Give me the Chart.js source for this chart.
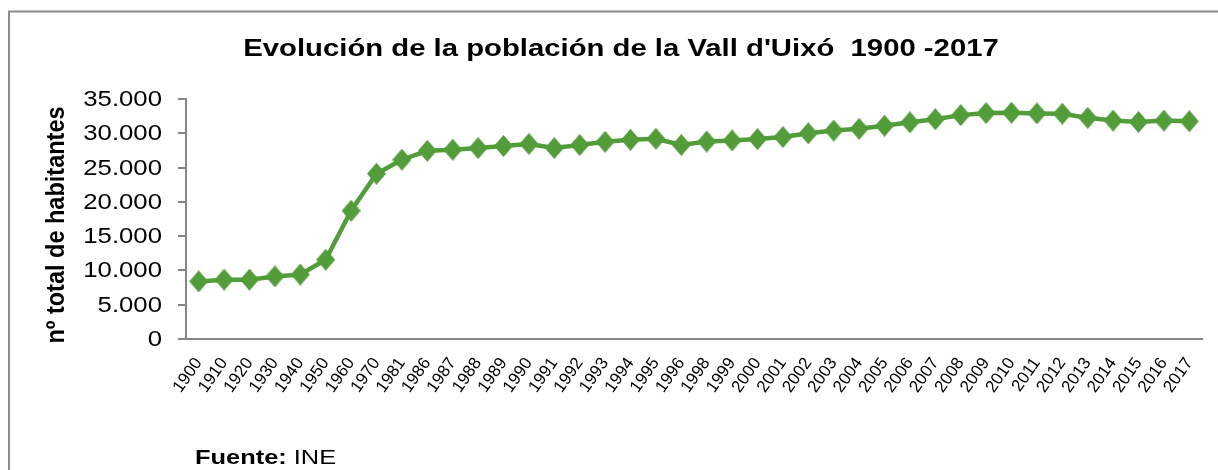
<!DOCTYPE html>
<html><head><meta charset="utf-8">
<script src="https://cdn.jsdelivr.net/npm/chart.js@4.4.1/dist/chart.umd.min.js"></script>
<style>html,body{margin:0;padding:0;background:#fff}#wrap{width:1218px;height:470px;position:relative}canvas{display:block}</style>
</head><body><div id="wrap"><canvas id="c"></canvas></div>
<script>
const years = ['1900','1910','1920','1930','1940','1950','1960','1970','1981','1986','1987','1988','1989','1990','1991','1992','1993','1994','1995','1996','1998','1999','2000','2001','2002','2003','2004','2005','2006','2007','2008','2009','2010','2011','2012','2013','2014','2015','2016','2017'];
const population = [8400,8650,8650,9130,9400,11560,18700,24100,26150,27450,27600,27850,28150,28450,27850,28300,28750,29050,29200,28300,28800,28950,29150,29450,30000,30400,30650,31100,31600,32050,32650,32950,33000,32900,32850,32250,31850,31650,31850,31750];
const yTicks = [0,5000,10000,15000,20000,25000,30000,35000];
const chartTitle = "Evolución de la población de la Vall d'Uixó  1900 -2017";
const yTitle = "nº total de habitantes";
const sourceLabel = "Fuente:";
const sourceText = " INE";

const green = '#529C3A';
const axisGray = '#868686';
const FONT = '"Liberation Sans", Arial, sans-serif';
const fmt = v => String(v).replace(/\B(?=(\d{3})+(?!\d))/g, '.');

// diamond marker (slightly taller than wide, like the original)
const marker = document.createElement('canvas');
marker.width = 19; marker.height = 22;
(function () {
  const m = marker.getContext('2d');
  m.fillStyle = green;
  m.beginPath();
  m.moveTo(9.5, 0); m.lineTo(19, 11); m.lineTo(9.5, 22); m.lineTo(0, 11);
  m.closePath(); m.fill();
})();

// draw text horizontally widened (the original's text is wide)
function wideText(ctx, text, x, y, sx, align) {
  ctx.save();
  ctx.translate(x, y);
  ctx.scale(sx, 1);
  ctx.textAlign = align;
  ctx.fillText(text, 0, 0);
  ctx.restore();
}

const decor = {
  id: 'decor',
  beforeDraw(chart) {
    const ctx = chart.ctx;
    ctx.save();
    ctx.fillStyle = '#fff';
    ctx.fillRect(0, 0, chart.width, chart.height);
    ctx.strokeStyle = '#8c8c8c';
    ctx.lineWidth = 2;
    ctx.beginPath();
    ctx.moveTo(9, 470); ctx.lineTo(9, 11.5); ctx.lineTo(1218, 11.5);
    ctx.stroke();
    ctx.restore();
  },
  afterDraw(chart) {
    const ctx = chart.ctx;
    ctx.save();
    ctx.fillStyle = '#000';
    ctx.textBaseline = 'middle';
    // title
    ctx.font = 'bold 24px ' + FONT;
    wideText(ctx, chartTitle, 621, 49, 1.22, 'center');
    // y-axis title
    ctx.save();
    ctx.translate(57, 225);
    ctx.scale(1.12, 1);
    ctx.rotate(-Math.PI / 2);
    ctx.font = 'bold 23.5px ' + FONT;
    ctx.textAlign = 'center';
    ctx.fillText(yTitle, 0, 0);
    ctx.restore();
    // y tick labels from the y scale
    const ys = chart.scales.y;
    ctx.font = '22px ' + FONT;
    ys.ticks.forEach(t => {
      wideText(ctx, fmt(t.value), 162, ys.getPixelForValue(t.value) + 1, 1.17, 'right');
    });
    // source
    ctx.textBaseline = 'alphabetic';
    ctx.font = 'bold 20px ' + FONT;
    const sx = 1.27;
    wideText(ctx, sourceLabel, 195, 464, sx, 'left');
    const w = ctx.measureText(sourceLabel).width * sx;
    ctx.font = '20px ' + FONT;
    wideText(ctx, sourceText, 195 + w, 464, sx, 'left');
    ctx.restore();
  }
};

new Chart(document.getElementById('c'), {
  type: 'line',
  data: {
    labels: years,
    datasets: [{
      data: population,
      borderColor: green,
      backgroundColor: green,
      borderWidth: 4.5,
      tension: 0,
      pointStyle: marker,
      pointRadius: 9,
      pointBackgroundColor: green,
      pointBorderColor: green
    }]
  },
  options: {
    responsive: true,
    maintainAspectRatio: false,
    animation: false,
    layout: { padding: { top: 99, right: 16, bottom: 0, left: 0 } },
    plugins: { legend: { display: false }, title: { display: false }, tooltip: { enabled: false } },
    scales: {
      x: {
        type: 'category',
        offset: true,
        grid: { display: false },
        border: { display: true, color: axisGray, width: 2 },
        ticks: {
          color: '#000', autoSkip: false, maxRotation: 55, minRotation: 55, padding: 7,
          font: { family: FONT, size: 17 }
        },
        afterFit: s => { s.height = 131; }
      },
      y: {
        min: 0, max: 35000,
        afterBuildTicks: s => { s.ticks = yTicks.map(v => ({ value: v })); },
        grid: { drawOnChartArea: false, drawTicks: true, tickLength: 8, color: axisGray, lineWidth: 2 },
        border: { display: true, color: axisGray, width: 2 },
        ticks: { display: false },
        afterFit: s => { s.width = 186; }
      }
    }
  },
  plugins: [decor]
});
</script>
</body></html>
